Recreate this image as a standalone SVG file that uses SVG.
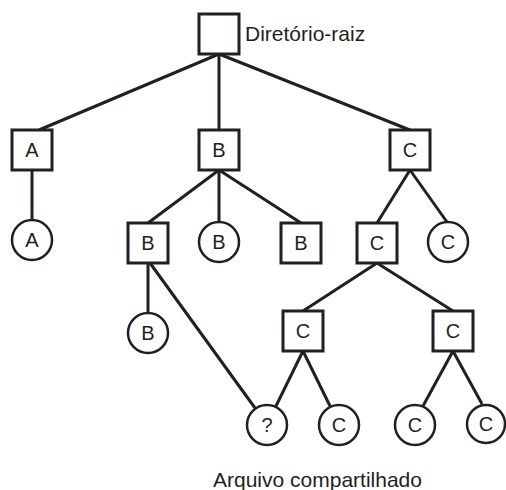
<svg xmlns="http://www.w3.org/2000/svg" width="506" height="490" viewBox="0 0 506 490">
<style>
.bx{fill:#fff;stroke:#231f20;stroke-width:3}
.ci{fill:#fff;stroke:#231f20;stroke-width:2.5}
.ln{stroke:#231f20;stroke-width:3;fill:none}
text{font-family:"Liberation Sans",Arial,sans-serif;fill:#231f20}
.lb{font-size:20px;text-anchor:middle}
.cap{font-size:21px}
</style>
<rect width="506" height="490" fill="#fff"/>
<g id="connectors">
<line class="ln" x1="219" y1="54" x2="39" y2="130"/>
<line class="ln" x1="219" y1="54" x2="219" y2="130"/>
<line class="ln" x1="219" y1="54" x2="410" y2="130"/>
<line class="ln" x1="32" y1="170" x2="32" y2="220"/>
<line class="ln" x1="219" y1="170" x2="148" y2="223"/>
<line class="ln" x1="219" y1="170" x2="219" y2="222"/>
<line class="ln" x1="219" y1="170" x2="301" y2="223"/>
<line class="ln" x1="410" y1="170" x2="377" y2="223"/>
<line class="ln" x1="410" y1="170" x2="447" y2="222"/>
<line class="ln" x1="148" y1="263" x2="148" y2="313"/>
<line class="ln" x1="150" y1="263" x2="255" y2="408"/>
<line class="ln" x1="377" y1="263" x2="303" y2="311"/>
<line class="ln" x1="377" y1="263" x2="453" y2="311"/>
<line class="ln" x1="303" y1="351" x2="276" y2="406"/>
<line class="ln" x1="303" y1="351" x2="330" y2="406"/>
<line class="ln" x1="453" y1="351" x2="423" y2="406"/>
<line class="ln" x1="453" y1="351" x2="482" y2="404"/>
</g>
<g id="root"><rect class="bx" x="199" y="14" width="40" height="40"/><text class="cap" x="245" y="41">Diretório-raiz</text></g>
<g id="dirA"><rect class="bx" x="12" y="130" width="40" height="40"/><text class="lb" x="32" y="157">A</text></g>
<g id="dirB"><rect class="bx" x="199" y="130" width="40" height="40"/><text class="lb" x="219" y="157">B</text></g>
<g id="dirC"><rect class="bx" x="390" y="130" width="40" height="40"/><text class="lb" x="410" y="157">C</text></g>
<g id="fileA"><circle class="ci" cx="32" cy="240" r="20"/><text class="lb" x="32" y="247">A</text></g>
<g id="dirBB1"><rect class="bx" x="128" y="223" width="40" height="40"/><text class="lb" x="148" y="250">B</text></g>
<g id="fileB1"><circle class="ci" cx="219" cy="242" r="20"/><text class="lb" x="219" y="249">B</text></g>
<g id="dirBB2"><rect class="bx" x="281" y="223" width="40" height="40"/><text class="lb" x="301" y="250">B</text></g>
<g id="dirCC"><rect class="bx" x="357" y="223" width="40" height="40"/><text class="lb" x="377" y="250">C</text></g>
<g id="fileC1"><circle class="ci" cx="448" cy="242" r="20"/><text class="lb" x="448" y="249">C</text></g>
<g id="fileB2"><circle class="ci" cx="148" cy="333" r="20"/><text class="lb" x="148" y="340">B</text></g>
<g id="dirCC1"><rect class="bx" x="283" y="311" width="40" height="40"/><text class="lb" x="303" y="338">C</text></g>
<g id="dirCC2"><rect class="bx" x="433" y="311" width="40" height="40"/><text class="lb" x="453" y="338">C</text></g>
<g id="shared"><circle class="ci" cx="267" cy="425" r="20"/><text class="lb" x="267" y="432">?</text></g>
<g id="fileC2"><circle class="ci" cx="339" cy="425" r="20"/><text class="lb" x="339" y="432">C</text></g>
<g id="fileC3"><circle class="ci" cx="415" cy="425" r="20"/><text class="lb" x="415" y="432">C</text></g>
<g id="fileC4"><circle class="ci" cx="486" cy="424" r="19"/><text class="lb" x="486" y="431">C</text></g>
<g id="caption"><text class="cap" x="213" y="487">Arquivo compartilhado</text></g>
</svg>
